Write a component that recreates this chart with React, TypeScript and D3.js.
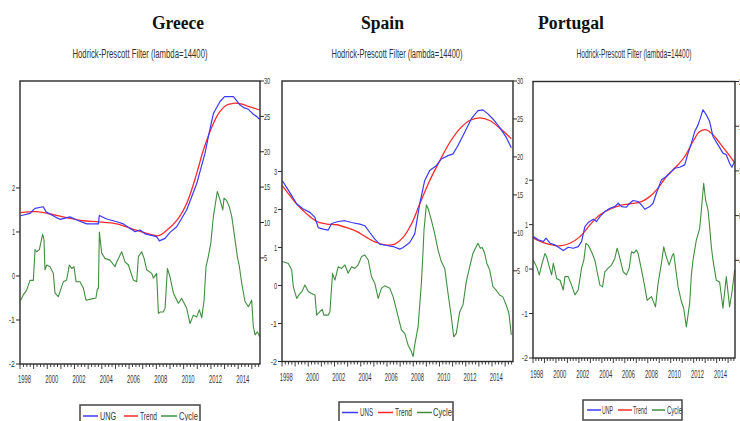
import React from 'react';
import * as d3 from 'd3';

type Pt = [number, number];

const countryTitles = ['Greece', 'Spain', 'Portugal'];
const subtitle = 'Hodrick-Prescott Filter (lambda=14400)';
const seriesNames = [['UNG', 'Trend', 'Cycle'], ['UNS', 'Trend', 'Cycle'], ['UNP', 'Trend', 'Cycle']];
const yearLabels = [1998, 2000, 2002, 2004, 2006, 2008, 2010, 2012, 2014];
const yearDomain: [number, number] = [1998, 2015.6];

const greeceLeftTicks = [-2, -1, 0, 1, 2];
const greeceRightTicks = [5, 10, 15, 20, 25, 30];
const spainLeftTicks = [-2, -1, 0, 1, 2, 3];
const spainRightTicks = [5, 10, 15, 20, 25, 30];
const portugalLeftTicks = [-2, -1, 0, 1, 2];
const portugalRightTicks = [4, 8, 12, 16, 20];

const greeceUN: Pt[] = [[1998.05,10.96],[1998.73,11.3],[1999.10,12.0],[1999.71,12.23],[1999.91,11.5],[2000.57,10.8],[2000.93,10.45],[2001.67,10.8],[2002.16,10.35],[2002.89,9.8],[2003.62,9.8],[2003.75,9.8],[2003.82,11.0],[2004.36,10.5],[2005.09,10.1],[2005.58,9.8],[2006.44,8.7],[2006.80,8.94],[2007.17,8.4],[2008.02,8.0],[2008.22,7.4],[2008.64,7.76],[2009.00,8.6],[2009.49,9.4],[2010.22,11.77],[2010.96,15.5],[2011.57,19.8],[2011.81,22.1],[2012.18,25.4],[2012.67,27.1],[2013.0,27.8],[2013.65,27.8],[2013.9,27.2],[2014.14,26.6],[2014.45,26.2],[2014.75,26.0],[2015.11,25.3],[2015.35,25.0],[2015.56,24.6]];
const greeceTrend: Pt[] = [[1998.05,11.4],[1999.22,11.53],[2000.2,11.2],[2001.4,10.7],[2002.6,10.25],[2003.8,10.1],[2005.09,9.8],[2006.31,9.04],[2007.53,8.33],[2008.14,8.13],[2008.76,8.9],[2009.5,10.3],[2010.22,12.7],[2010.96,16.95],[2011.45,20.25],[2012.18,24.0],[2012.67,25.7],[2013.16,26.6],[2013.65,26.85],[2014.14,26.8],[2014.63,26.5],[2015.56,25.9]];
const greeceCycle: Pt[] = [[1998.05,-0.55],[1998.24,-0.43],[1998.49,-0.32],[1998.73,-0.1],[1998.98,-0.1],[1999.10,0.6],[1999.22,0.55],[1999.42,0.6],[1999.66,0.95],[1999.76,0.82],[1999.83,0.14],[1999.96,0.25],[2000.20,0.21],[2000.44,0.06],[2000.57,-0.39],[2000.81,-0.47],[2001.18,-0.13],[2001.42,-0.09],[2001.62,0.25],[2001.79,0.17],[2001.96,0.21],[2002.11,-0.13],[2002.40,-0.13],[2002.65,-0.28],[2002.84,-0.55],[2003.26,-0.52],[2003.57,-0.5],[2003.67,-0.3],[2003.75,-0.28],[2003.82,1.0],[2003.99,0.52],[2004.23,0.4],[2004.60,0.36],[2004.97,0.21],[2005.09,0.32],[2005.46,0.55],[2005.70,0.32],[2005.95,0.25],[2006.31,-0.09],[2006.56,-0.13],[2006.68,0.44],[2006.92,0.55],[2007.10,0.4],[2007.29,0.14],[2007.66,0.06],[2007.78,-0.05],[2008.02,0.06],[2008.15,-0.85],[2008.27,-0.82],[2008.51,-0.82],[2008.64,-0.73],[2008.81,0.17],[2009.00,-0.02],[2009.25,-0.39],[2009.61,-0.62],[2009.86,-0.51],[2010.22,-0.73],[2010.47,-1.08],[2010.71,-0.89],[2010.96,-0.93],[2011.15,-0.77],[2011.33,-0.95],[2011.50,-0.55],[2011.64,0.21],[2011.81,0.44],[2011.99,0.74],[2012.18,1.35],[2012.47,1.92],[2012.67,1.73],[2012.87,1.5],[2012.96,1.77],[2013.16,1.71],[2013.35,1.57],[2013.53,1.35],[2013.77,0.82],[2013.94,0.44],[2014.09,0.21],[2014.26,-0.17],[2014.50,-0.58],[2014.75,-0.7],[2014.99,-0.55],[2015.11,-1.15],[2015.24,-1.34],[2015.41,-1.27],[2015.58,-1.38]];

const spainUN: Pt[] = [[1998.03,16.87],[1998.35,16.0],[1998.74,14.9],[1999.12,13.8],[1999.62,13.14],[2000.13,12.7],[2000.51,12.03],[2000.76,10.7],[2001.14,10.5],[2001.52,10.37],[2001.78,11.24],[2002.28,11.5],[2002.79,11.6],[2003.30,11.37],[2003.93,11.16],[2004.31,10.94],[2004.69,10.05],[2005.07,9.18],[2005.45,8.52],[2005.96,8.34],[2006.47,8.2],[2006.97,7.86],[2007.23,8.07],[2007.73,8.73],[2008.11,9.84],[2008.49,13.8],[2008.87,16.87],[2009.25,18.2],[2009.76,18.85],[2010.14,19.73],[2010.65,20.17],[2011.03,20.4],[2011.41,21.5],[2011.92,23.25],[2012.42,25.0],[2012.93,26.1],[2013.31,26.2],[2013.69,25.67],[2014.07,25.0],[2014.58,23.9],[2015.08,22.6],[2015.47,21.2]];
const spainTrend: Pt[] = [[1998.03,16.2],[1998.61,14.9],[1999.12,13.8],[1999.88,12.5],[2000.64,11.5],[2001.40,11.16],[2002.16,11.07],[2002.92,10.7],[2003.68,10.2],[2004.44,9.4],[2005.20,8.73],[2005.96,8.39],[2006.59,8.52],[2007.23,9.4],[2007.86,11.16],[2008.49,13.8],[2009.25,16.87],[2010.02,19.5],[2010.78,21.9],[2011.54,23.7],[2012.30,24.8],[2013.06,25.14],[2013.82,24.8],[2014.58,23.8],[2015.47,22.4]];
const spainCycle: Pt[] = [[1998.03,0.63],[1998.48,0.58],[1998.74,0.41],[1998.86,-0.03],[1999.12,-0.34],[1999.37,-0.21],[1999.50,-0.17],[1999.75,0.01],[2000.00,-0.16],[2000.26,-0.21],[2000.51,-0.25],[2000.64,-0.78],[2000.89,-0.69],[2001.07,-0.63],[2001.19,-0.78],[2001.52,-0.78],[2001.65,-0.69],[2001.85,0.32],[2002.03,0.14],[2002.28,0.49],[2002.54,0.45],[2002.79,0.54],[2003.04,0.32],[2003.30,0.49],[2003.55,0.45],[2003.80,0.54],[2004.06,0.76],[2004.31,0.80],[2004.57,0.67],[2004.82,0.23],[2005.07,0.06],[2005.33,-0.34],[2005.58,-0.07],[2005.83,-0.01],[2006.21,-0.07],[2006.47,-0.3],[2006.72,-0.64],[2007.10,-1.17],[2007.35,-1.26],[2007.61,-1.57],[2007.86,-1.74],[2007.99,-1.87],[2008.11,-1.57],[2008.37,-1.08],[2008.62,0.06],[2008.75,0.93],[2008.82,1.46],[2009.00,2.12],[2009.13,2.03],[2009.38,1.72],[2009.63,1.37],[2009.89,0.93],[2010.14,0.63],[2010.40,0.45],[2010.65,-0.21],[2010.90,-0.82],[2011.08,-1.35],[2011.28,-1.26],[2011.54,-0.69],[2011.79,-0.51],[2012.04,0.10],[2012.30,0.49],[2012.55,0.85],[2012.93,1.11],[2013.11,0.98],[2013.26,1.0],[2013.44,0.85],[2013.61,0.58],[2013.82,0.41],[2014.07,-0.03],[2014.32,-0.12],[2014.58,-0.25],[2014.83,-0.3],[2015.08,-0.51],[2015.29,-0.73],[2015.47,-1.3]];

const portugalUN: Pt[] = [[1998.03,6.12],[1998.46,5.83],[1998.90,5.68],[1999.13,5.98],[1999.48,5.53],[1999.91,5.38],[2000.35,5.08],[2000.64,4.87],[2001.07,5.17],[2001.51,5.08],[2001.94,5.23],[2002.23,5.68],[2002.52,7.02],[2002.81,7.38],[2003.25,7.68],[2003.54,7.47],[2003.83,7.91],[2004.26,8.36],[2004.70,8.66],[2005.13,8.81],[2005.42,9.11],[2005.71,8.81],[2006.14,8.75],[2006.43,9.11],[2006.72,9.35],[2007.16,9.26],[2007.45,8.96],[2007.74,8.57],[2008.17,8.81],[2008.46,9.11],[2008.75,10.0],[2009.19,11.2],[2009.62,11.5],[2010.06,11.94],[2010.35,12.24],[2010.78,12.33],[2011.22,12.54],[2011.51,13.59],[2011.80,14.48],[2012.09,15.52],[2012.38,16.12],[2012.58,16.72],[2012.81,17.47],[2013.10,17.02],[2013.39,16.42],[2013.68,15.08],[2014.12,14.33],[2014.55,13.59],[2014.84,13.44],[2015.13,12.69],[2015.33,12.33],[2015.57,12.84]];
const portugalTrend: Pt[] = [[1998.03,5.98],[1998.90,5.59],[1999.77,5.35],[2000.35,5.29],[2001.22,5.53],[2002.09,6.12],[2002.96,7.17],[2003.83,8.07],[2004.70,8.57],[2005.57,8.9],[2006.43,9.05],[2007.45,9.26],[2008.17,9.7],[2008.90,10.46],[2009.62,11.5],[2010.49,12.39],[2011.22,13.29],[2011.94,14.63],[2012.52,15.52],[2013.10,15.68],[2013.68,15.23],[2014.55,14.13],[2015.57,12.75]];
const portugalCycle: Pt[] = [[1998.03,0.20],[1998.32,0.05],[1998.55,-0.13],[1998.75,0.09],[1999.04,0.35],[1999.19,0.28],[1999.42,0.05],[1999.62,-0.13],[1999.77,0.13],[2000.06,-0.21],[2000.35,-0.25],[2000.64,-0.47],[2000.78,-0.17],[2001.07,-0.17],[2001.36,-0.36],[2001.65,-0.58],[2001.94,-0.47],[2002.23,0.02],[2002.43,0.2],[2002.61,0.58],[2002.81,0.54],[2003.10,0.39],[2003.39,0.2],[2003.59,-0.06],[2003.83,-0.36],[2004.06,-0.4],[2004.26,-0.06],[2004.55,0.02],[2004.84,0.09],[2005.13,0.24],[2005.33,0.47],[2005.51,0.31],[2005.86,-0.06],[2006.14,-0.13],[2006.38,0.02],[2006.58,0.39],[2006.78,0.36],[2007.01,0.43],[2007.16,0.35],[2007.45,-0.01],[2007.74,-0.40],[2007.94,-0.70],[2008.32,-0.62],[2008.67,-0.85],[2008.90,-0.32],[2009.19,0.13],[2009.39,0.5],[2009.57,0.31],[2009.86,0.09],[2010.14,0.31],[2010.26,0.35],[2010.64,-0.40],[2010.93,-0.73],[2011.13,-0.88],[2011.36,-1.30],[2011.65,-0.77],[2011.80,-0.13],[2011.94,0.2],[2012.23,0.65],[2012.52,0.91],[2012.67,1.33],[2012.87,1.93],[2013.04,1.55],[2013.25,1.33],[2013.39,0.95],[2013.54,0.5],[2013.68,0.2],[2013.97,-0.25],[2014.26,-0.29],[2014.55,-0.88],[2014.84,-0.17],[2015.13,-0.85],[2015.36,-0.47],[2015.57,-0.02]];

const BLUE = '#3a3aff';
const RED = '#ff2a2a';
const GREEN = '#3f8f3f';
const INK = '#2a2a2a';
const NARROW = "'Liberation Sans', Arial, sans-serif";

interface PanelCfg {
  title: string; names: string[];
  un: Pt[]; trend: Pt[]; cycle: Pt[];
  leftTicks: number[]; rightTicks: number[];
  x0: number; x1: number; yTop: number; yBottom: number;
  leftDomain: [number, number]; rightDomain: [number, number];
  titleX: number; titleW: number; subX: number; subW: number;
  xLabelY: number;
  legendBox: [number, number, number, number];
  legendLines: [number, number][]; legendText: number[]; legendTextW: number[]; legendY: number;
}

const panels: PanelCfg[] = [
  {
    title: countryTitles[0], names: seriesNames[0], un: greeceUN, trend: greeceTrend, cycle: greeceCycle,
    leftTicks: greeceLeftTicks, rightTicks: greeceRightTicks,
    x0: 20, x1: 260, yTop: 81, yBottom: 364, leftDomain: [-2, 4.43], rightDomain: [-10, 30],
    titleX: 178, titleW: 52, subX: 140, subW: 135, xLabelY: 383,
    legendBox: [80, 405, 120, 24], legendLines: [[83, 98], [124, 138], [161, 177]], legendText: [100, 140, 179], legendTextW: [16, 17, 19], legendY: 419.5,
  },
  {
    title: countryTitles[1], names: seriesNames[1], un: spainUN, trend: spainTrend, cycle: spainCycle,
    leftTicks: spainLeftTicks, rightTicks: spainRightTicks,
    x0: 282, x1: 513, yTop: 81, yBottom: 361.5, leftDomain: [-2, 5.38], rightDomain: [-6.94, 30],
    titleX: 382.5, titleW: 43, subX: 397, subW: 131, xLabelY: 380.5,
    legendBox: [339, 402, 114, 26], legendLines: [[342, 358], [378, 393], [417, 432]], legendText: [360, 395, 433], legendTextW: [13, 17, 19], legendY: 416,
  },
  {
    title: countryTitles[2], names: seriesNames[2], un: portugalUN, trend: portugalTrend, cycle: portugalCycle,
    leftTicks: portugalLeftTicks, rightTicks: portugalRightTicks,
    x0: 533, x1: 735, yTop: 81.5, yBottom: 358, leftDomain: [-2, 4.22], rightDomain: [-4.74, 20],
    titleX: 571, titleW: 66, subX: 634, subW: 115, xLabelY: 378,
    legendBox: [583, 400, 99, 20], legendLines: [[587, 601], [618, 632], [652, 665]], legendText: [602, 633, 667], legendTextW: [11, 14, 15], legendY: 413.5,
  },
];

function Panel({ cfg }: { cfg: PanelCfg }) {
  const x = d3.scaleLinear().domain(yearDomain).range([cfg.x0, cfg.x1]);
  const yL = d3.scaleLinear().domain(cfg.leftDomain).range([cfg.yBottom, cfg.yTop]);
  const yR = d3.scaleLinear().domain(cfg.rightDomain).range([cfg.yBottom, cfg.yTop]);
  const unLine = d3.line<Pt>().x(d => x(d[0])).y(d => yR(d[1]));
  const trendLine = d3.line<Pt>().x(d => x(d[0])).y(d => yR(d[1])).curve(d3.curveCatmullRom.alpha(0.5));
  const cycleLine = d3.line<Pt>().x(d => x(d[0])).y(d => yL(d[1]));
  const quarters = d3.range(1998, yearDomain[1] + 0.001, 0.25);
  const tl = (s: string) => s.length * 3.1;
  const colors = [BLUE, RED, GREEN];
  return (
    <g>
      <text x={cfg.titleX} y={29} textAnchor="middle" fontFamily="'Liberation Serif','Times New Roman',serif" fontWeight="bold" fontSize={18} fill="#111" textLength={cfg.titleW} lengthAdjust="spacingAndGlyphs">{cfg.title}</text>
      <text x={cfg.subX} y={58} textAnchor="middle" fontFamily={NARROW} fontSize={13} fill="#333" textLength={cfg.subW} lengthAdjust="spacingAndGlyphs">{subtitle}</text>

      <path d={cycleLine(cfg.cycle) || ''} fill="none" stroke={GREEN} strokeWidth={1.1} strokeLinejoin="round" />
      <path d={trendLine(cfg.trend) || ''} fill="none" stroke={RED} strokeWidth={1.3} />
      <path d={unLine(cfg.un) || ''} fill="none" stroke={BLUE} strokeWidth={1.2} strokeLinejoin="round" />

      <rect x={cfg.x0} y={cfg.yTop} width={cfg.x1 - cfg.x0} height={cfg.yBottom - cfg.yTop} fill="none" stroke={INK} strokeWidth={1.4} />

      {cfg.leftTicks.map(t => (
        <g key={'l' + t}>
          <line x1={cfg.x0 - 4} x2={cfg.x0} y1={yL(t)} y2={yL(t)} stroke={INK} strokeWidth={1} />
          <text x={cfg.x0 - 5} y={yL(t)} dy="0.35em" textAnchor="end" fontFamily={NARROW} fontSize={9.5} fill="#333" textLength={tl(String(t))} lengthAdjust="spacingAndGlyphs">{t}</text>
        </g>
      ))}
      {cfg.rightTicks.map(t => (
        <g key={'r' + t}>
          <line x1={cfg.x1} x2={cfg.x1 + 4} y1={yR(t)} y2={yR(t)} stroke={INK} strokeWidth={1} />
          <text x={cfg.x1 + 4} y={yR(t)} dy="0.35em" textAnchor="start" fontFamily={NARROW} fontSize={9.5} fill="#333" textLength={tl(String(t))} lengthAdjust="spacingAndGlyphs">{t}</text>
        </g>
      ))}
      {quarters.map(q => {
        const major = Math.abs(q - Math.round(q)) < 1e-6;
        return <line key={'q' + q} x1={x(q)} x2={x(q)} y1={cfg.yBottom} y2={cfg.yBottom + (major ? 5 : 3)} stroke={INK} strokeWidth={0.9} />;
      })}
      {yearLabels.map(yr => (
        <text key={'y' + yr} x={x(yr + 0.33)} y={cfg.xLabelY} textAnchor="middle" fontFamily={NARROW} fontSize={11} fill="#333" textLength={13} lengthAdjust="spacingAndGlyphs">{yr}</text>
      ))}

      <rect x={cfg.legendBox[0]} y={cfg.legendBox[1]} width={cfg.legendBox[2]} height={cfg.legendBox[3]} fill="#fff" stroke="#444" strokeWidth={1.5} />
      {cfg.names.map((n, i) => (
        <g key={'lg' + n}>
          <line x1={cfg.legendLines[i][0]} x2={cfg.legendLines[i][1]} y1={cfg.legendY - 3.5} y2={cfg.legendY - 3.5} stroke={colors[i]} strokeWidth={1.5} />
          <text x={cfg.legendText[i]} y={cfg.legendY} fontFamily={NARROW} fontSize={11} fill="#333" textLength={cfg.legendTextW[i]} lengthAdjust="spacingAndGlyphs">{n}</text>
        </g>
      ))}
    </g>
  );
}

export default function App() {
  return (
    <svg width={740} height={421} viewBox="0 0 740 421" style={{ position: 'absolute', left: 0, top: 0, background: '#fff' }}>
      <rect x={0} y={0} width={740} height={421} fill="#fff" />
      {panels.map(p => <Panel key={p.title} cfg={p} />)}
    </svg>
  );
}
